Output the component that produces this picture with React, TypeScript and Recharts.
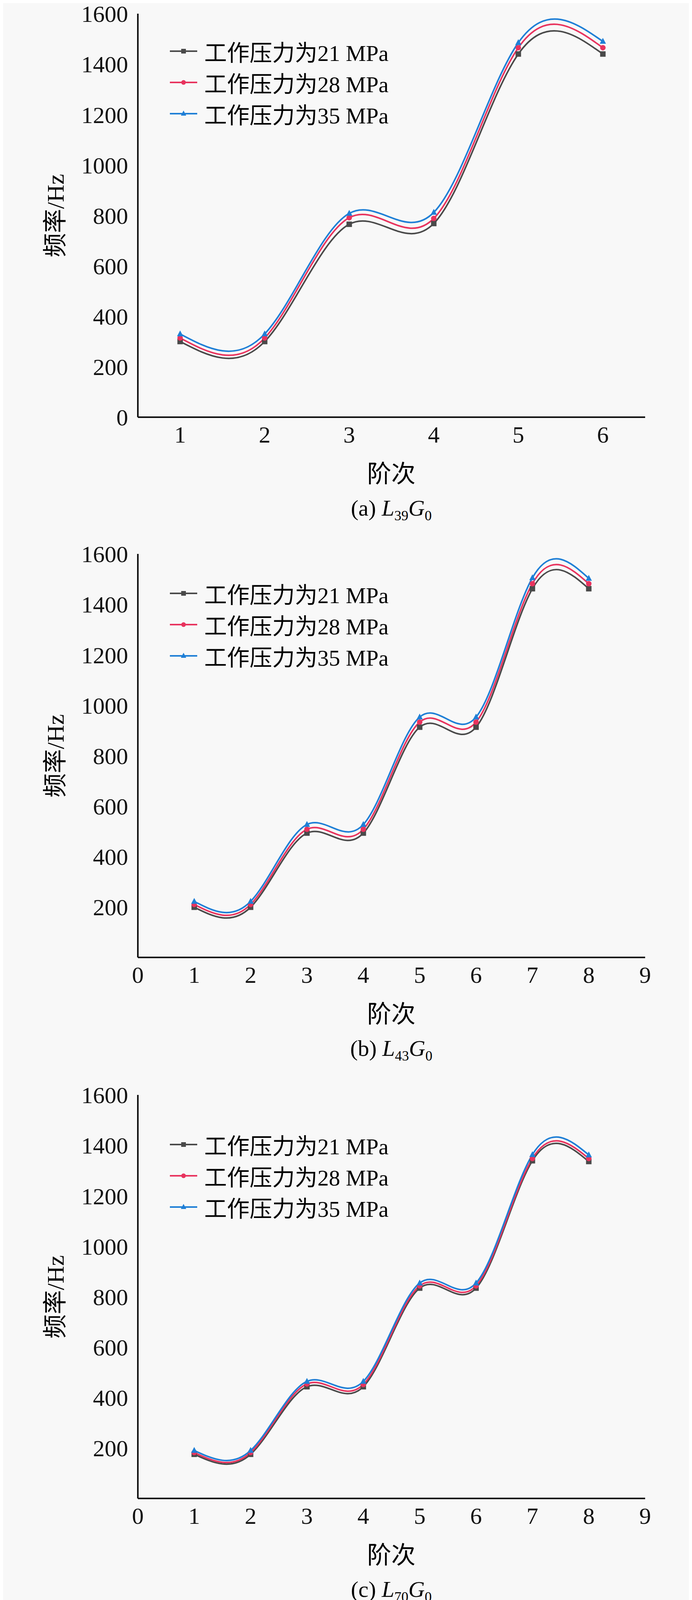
import { LineChart, Line, XAxis, YAxis } from 'recharts'

const seriesNames = ['工作压力为21 MPa', '工作压力为28 MPa', '工作压力为35 MPa']
const seriesColors = ['#4a4a4a', '#e8335e', '#1f7fd6']

const orderA = [1, 2, 3, 4, 5, 6]
const a21 = [300, 300, 765, 768, 1440, 1440]
const a28 = [314, 314, 791, 788, 1465, 1465]
const a35 = [330, 330, 808, 812, 1485, 1490]

const orderB = [1, 2, 3, 4, 5, 6, 7, 8]
const b21 = [199, 199, 493, 493, 913, 913, 1462, 1462]
const b28 = [210, 210, 508, 508, 933, 933, 1482, 1482]
const b35 = [222, 222, 527, 527, 953, 953, 1505, 1503]

const orderC = [1, 2, 3, 4, 5, 6, 7, 8]
const c21 = [175, 175, 443, 443, 834, 834, 1339, 1336]
const c28 = [182, 182, 454, 452, 843, 843, 1348, 1348]
const c35 = [190, 190, 464, 464, 854, 854, 1363, 1362]

const orderD = [1, 2, 3, 4]
const d21 = [337, 337, 885, 883]
const d28 = [339, 340, 890, 893]
const d35 = [351, 371, 904, 951]

const yTicksFull = [0, 200, 400, 600, 800, 1000, 1200, 1400, 1600]
const yTicksNoZero = [200, 400, 600, 800, 1000, 1200, 1400, 1600]
const xTicksWide = [0, 1, 2, 3, 4, 5, 6, 7, 8, 9]

const FONT = '"Liberation Serif", "Noto Sans CJK SC", serif'
const PLOT_L = 353
const PLOT_R = 1652
const PLOT_H = 1033
const MT = 50

function makeDot(kind: number, color: string) {
  return (p: any) => {
    const { cx, cy, index } = p
    if (kind === 0) return <rect key={index} x={cx - 7} y={cy - 7} width={14} height={14} fill={color} />
    if (kind === 1) return <circle key={index} cx={cx} cy={cy} r={7} fill={color} />
    return <path key={index} d={`M${cx},${cy - 9}L${cx + 8},${cy + 6}L${cx - 8},${cy + 6}Z`} fill={color} />
  }
}

function LegendBox({ top }: { top: number }) {
  return (
    <div style={{ position: 'absolute', left: 435, top: top - 40, fontFamily: FONT, fontSize: 58 }}>
      {seriesNames.map((n, i) => (
        <div key={n} style={{ display: 'flex', alignItems: 'center', height: 80 }}>
          <svg width={70} height={20} style={{ marginRight: 18 }}>
            <line x1={0} y1={10} x2={70} y2={10} stroke={seriesColors[i]} strokeWidth={4} />
            {i === 0 && <rect x={29} y={4} width={12} height={12} fill={seriesColors[i]} />}
            {i === 1 && <circle cx={35} cy={10} r={6} fill={seriesColors[i]} />}
            {i === 2 && <path d="M35,2L42,15L28,15Z" fill={seriesColors[i]} />}
          </svg>
          <span>{n}</span>
        </div>
      ))}
    </div>
  )
}

const axisLine = { stroke: '#111', strokeWidth: 4 }
const tickLine = { stroke: '#111', strokeWidth: 3 }
const hiddenTick = { fill: 'transparent', fontSize: 1 }
const blank = () => ''

function Panel({
  top, orders, s21, s28, s35, domain, xTicks, yTicks, letter, sub, legendOffset,
}: {
  top: number; orders: number[]; s21: number[]; s28: number[]; s35: number[]
  domain: [number, number]; xTicks: number[]; yTicks: number[]; letter: string; sub: string; legendOffset: number
}) {
  const data = orders.map((o, i) => ({ order: o, p21: s21[i], p28: s28[i], p35: s35[i] }))
  const keys = ['p21', 'p28', 'p35']
  const tickStyle = { fill: '#111', fontSize: 60, fontFamily: FONT }
  return (
    <div style={{ position: 'absolute', left: 0, top: top - MT, width: 1772, height: 1400 }}>
      <LineChart width={1772} height={MT + PLOT_H + 100} data={data}
        margin={{ top: MT, right: 1772 - PLOT_R, left: PLOT_L - 200, bottom: 0 }}>
        <XAxis xAxisId="bm" dataKey="order" type="number" domain={domain} ticks={xTicks}
          height={0} mirror tickSize={19} tick={hiddenTick} tickFormatter={blank}
          axisLine={axisLine} tickLine={tickLine} />
        <XAxis xAxisId="b" dataKey="order" type="number" domain={domain} ticks={xTicks}
          height={100} tickSize={0} tickMargin={22} tick={tickStyle} interval={0}
          axisLine={axisLine} tickLine={false} />
        <XAxis xAxisId="t" orientation="top" dataKey="order" type="number" domain={domain} ticks={xTicks}
          height={0} mirror tickSize={19} tick={hiddenTick} tickFormatter={blank}
          axisLine={axisLine} tickLine={tickLine} />
        <YAxis yAxisId="lm" domain={[0, 1600]} ticks={yTicksFull} width={0} mirror tickSize={19}
          tick={hiddenTick} tickFormatter={blank} axisLine={axisLine} tickLine={tickLine} />
        <YAxis yAxisId="l" domain={[0, 1600]} ticks={yTicks} width={200} tickSize={0} tickMargin={25}
          tick={tickStyle} interval={0} axisLine={axisLine} tickLine={false} />
        <YAxis yAxisId="r" orientation="right" domain={[0, 1600]} ticks={yTicksFull} width={0}
          mirror tickSize={19} tick={hiddenTick} tickFormatter={blank}
          axisLine={axisLine} tickLine={tickLine} />
        {keys.map((k, i) => (
          <Line key={k} xAxisId="b" yAxisId="l" dataKey={k} type="natural" stroke={seriesColors[i]}
            strokeWidth={4} dot={makeDot(i, seriesColors[i])} isAnimationActive={false} />
        ))}
      </LineChart>
      <LegendBox top={MT + legendOffset} />
      <div style={{ position: 'absolute', left: 136, top: MT + PLOT_H / 2, transform: 'translate(-50%,-50%) rotate(-90deg)',
        fontFamily: FONT, fontSize: 62, whiteSpace: 'nowrap' }}>频率/Hz</div>
      <div style={{ position: 'absolute', left: 1002, top: MT + PLOT_H + 140, transform: 'translate(-50%,-50%)',
        fontFamily: FONT, fontSize: 62 }}>阶次</div>
      <div style={{ position: 'absolute', left: 1002, top: MT + PLOT_H + 236, transform: 'translate(-50%,-50%)',
        fontFamily: FONT, fontSize: 58, whiteSpace: 'nowrap' }}>
        ({letter}) <i>L</i><sub style={{ fontSize: 36 }}>{sub}</sub><i>G</i><sub style={{ fontSize: 36 }}>0</sub>
      </div>
    </div>
  )
}

export default function App() {
  return (
    <div style={{ position: 'relative', width: 1772, height: 5492, margin: -8, background: '#f8f8f8' }}>
      <Panel top={35} orders={orderA} s21={a21} s28={a28} s35={a35} domain={[0.5, 6.5]} xTicks={orderA}
        yTicks={yTicksFull} letter="a" sub="39" legendOffset={96} />
      <Panel top={1418} orders={orderB} s21={b21} s28={b28} s35={b35} domain={[0, 9]} xTicks={xTicksWide}
        yTicks={yTicksNoZero} letter="b" sub="43" legendOffset={101} />
      <Panel top={2803} orders={orderC} s21={c21} s28={c28} s35={c35} domain={[0, 9]} xTicks={xTicksWide}
        yTicks={yTicksNoZero} letter="c" sub="70" legendOffset={127} />
      <Panel top={4185} orders={orderD} s21={d21} s28={d28} s35={d35} domain={[0.5, 4.5]} xTicks={orderD}
        yTicks={yTicksFull} letter="d" sub="78" legendOffset={97} />
    </div>
  )
}
